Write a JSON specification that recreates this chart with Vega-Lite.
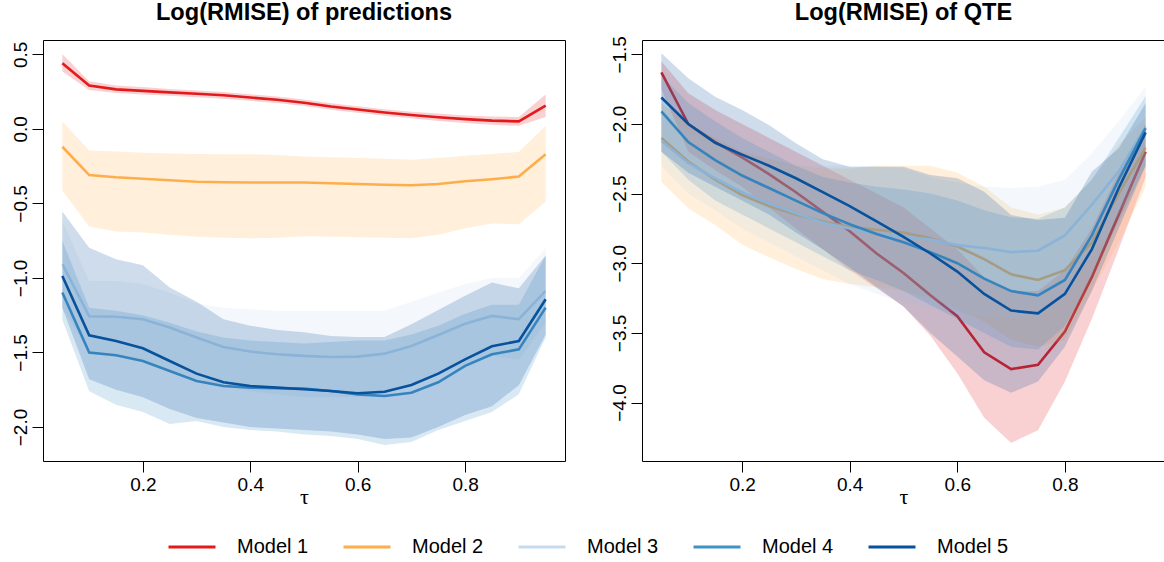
{
"$schema": "https://vega.github.io/schema/vega-lite/v6.json",
"autosize": {"type": "pad"},
"padding": {"left": 10, "top": 0, "right": 0, "bottom": 0},
"datasets": {
"pred": [
{"tau":0.05,"model":"Model 1","m":0.44,"lo":0.385,"hi":0.5},
{"tau":0.1,"model":"Model 1","m":0.29,"lo":0.26,"hi":0.32},
{"tau":0.15,"model":"Model 1","m":0.265,"lo":0.24,"hi":0.29},
{"tau":0.2,"model":"Model 1","m":0.255,"lo":0.23,"hi":0.28},
{"tau":0.25,"model":"Model 1","m":0.245,"lo":0.222,"hi":0.268},
{"tau":0.3,"model":"Model 1","m":0.235,"lo":0.212,"hi":0.258},
{"tau":0.35,"model":"Model 1","m":0.225,"lo":0.202,"hi":0.248},
{"tau":0.4,"model":"Model 1","m":0.21,"lo":0.188,"hi":0.232},
{"tau":0.45,"model":"Model 1","m":0.195,"lo":0.173,"hi":0.217},
{"tau":0.5,"model":"Model 1","m":0.175,"lo":0.153,"hi":0.197},
{"tau":0.55,"model":"Model 1","m":0.15,"lo":0.128,"hi":0.172},
{"tau":0.6,"model":"Model 1","m":0.13,"lo":0.108,"hi":0.152},
{"tau":0.65,"model":"Model 1","m":0.11,"lo":0.088,"hi":0.132},
{"tau":0.7,"model":"Model 1","m":0.093,"lo":0.071,"hi":0.115},
{"tau":0.75,"model":"Model 1","m":0.078,"lo":0.053,"hi":0.103},
{"tau":0.8,"model":"Model 1","m":0.065,"lo":0.04,"hi":0.09},
{"tau":0.85,"model":"Model 1","m":0.055,"lo":0.027,"hi":0.083},
{"tau":0.9,"model":"Model 1","m":0.05,"lo":0.02,"hi":0.08},
{"tau":0.95,"model":"Model 1","m":0.155,"lo":0.08,"hi":0.23},
{"tau":0.05,"model":"Model 2","m":-0.12,"lo":-0.414,"hi":0.05},
{"tau":0.1,"model":"Model 2","m":-0.31,"lo":-0.655,"hi":-0.146},
{"tau":0.15,"model":"Model 2","m":-0.325,"lo":-0.689,"hi":-0.152},
{"tau":0.2,"model":"Model 2","m":-0.335,"lo":-0.695,"hi":-0.16},
{"tau":0.25,"model":"Model 2","m":-0.345,"lo":-0.71,"hi":-0.165},
{"tau":0.3,"model":"Model 2","m":-0.355,"lo":-0.723,"hi":-0.168},
{"tau":0.35,"model":"Model 2","m":-0.358,"lo":-0.73,"hi":-0.17},
{"tau":0.4,"model":"Model 2","m":-0.36,"lo":-0.734,"hi":-0.17},
{"tau":0.45,"model":"Model 2","m":-0.36,"lo":-0.73,"hi":-0.175},
{"tau":0.5,"model":"Model 2","m":-0.36,"lo":-0.72,"hi":-0.185},
{"tau":0.55,"model":"Model 2","m":-0.365,"lo":-0.722,"hi":-0.19},
{"tau":0.6,"model":"Model 2","m":-0.37,"lo":-0.727,"hi":-0.195},
{"tau":0.65,"model":"Model 2","m":-0.375,"lo":-0.73,"hi":-0.2},
{"tau":0.7,"model":"Model 2","m":-0.378,"lo":-0.734,"hi":-0.208},
{"tau":0.75,"model":"Model 2","m":-0.37,"lo":-0.71,"hi":-0.195},
{"tau":0.8,"model":"Model 2","m":-0.352,"lo":-0.667,"hi":-0.18},
{"tau":0.85,"model":"Model 2","m":-0.338,"lo":-0.635,"hi":-0.168},
{"tau":0.9,"model":"Model 2","m":-0.32,"lo":-0.64,"hi":-0.155},
{"tau":0.95,"model":"Model 2","m":-0.17,"lo":-0.488,"hi":0.02},
{"tau":0.05,"model":"Model 3","m":-0.908,"lo":-1.2,"hi":-0.62},
{"tau":0.1,"model":"Model 3","m":-1.257,"lo":-1.5,"hi":-1.02},
{"tau":0.15,"model":"Model 3","m":-1.26,"lo":-1.52,"hi":-1.02},
{"tau":0.2,"model":"Model 3","m":-1.277,"lo":-1.55,"hi":-1.04},
{"tau":0.25,"model":"Model 3","m":-1.333,"lo":-1.62,"hi":-1.1},
{"tau":0.3,"model":"Model 3","m":-1.4,"lo":-1.68,"hi":-1.17},
{"tau":0.35,"model":"Model 3","m":-1.463,"lo":-1.72,"hi":-1.2},
{"tau":0.4,"model":"Model 3","m":-1.494,"lo":-1.76,"hi":-1.21},
{"tau":0.45,"model":"Model 3","m":-1.512,"lo":-1.78,"hi":-1.22},
{"tau":0.5,"model":"Model 3","m":-1.523,"lo":-1.8,"hi":-1.22},
{"tau":0.55,"model":"Model 3","m":-1.53,"lo":-1.8,"hi":-1.22},
{"tau":0.6,"model":"Model 3","m":-1.528,"lo":-1.8,"hi":-1.22},
{"tau":0.65,"model":"Model 3","m":-1.508,"lo":-1.78,"hi":-1.22},
{"tau":0.7,"model":"Model 3","m":-1.456,"lo":-1.72,"hi":-1.16},
{"tau":0.75,"model":"Model 3","m":-1.383,"lo":-1.65,"hi":-1.1},
{"tau":0.8,"model":"Model 3","m":-1.307,"lo":-1.58,"hi":-1.04},
{"tau":0.85,"model":"Model 3","m":-1.255,"lo":-1.52,"hi":-1.0},
{"tau":0.9,"model":"Model 3","m":-1.277,"lo":-1.55,"hi":-1.0},
{"tau":0.95,"model":"Model 3","m":-1.087,"lo":-1.3,"hi":-0.8},
{"tau":0.05,"model":"Model 4","m":-1.098,"lo":-1.28,"hi":-0.75},
{"tau":0.1,"model":"Model 4","m":-1.501,"lo":-1.76,"hi":-1.2},
{"tau":0.15,"model":"Model 4","m":-1.519,"lo":-1.85,"hi":-1.22},
{"tau":0.2,"model":"Model 4","m":-1.557,"lo":-1.9,"hi":-1.25},
{"tau":0.25,"model":"Model 4","m":-1.624,"lo":-1.98,"hi":-1.3},
{"tau":0.3,"model":"Model 4","m":-1.691,"lo":-1.96,"hi":-1.36},
{"tau":0.35,"model":"Model 4","m":-1.725,"lo":-2.0,"hi":-1.4},
{"tau":0.4,"model":"Model 4","m":-1.736,"lo":-2.02,"hi":-1.42},
{"tau":0.45,"model":"Model 4","m":-1.74,"lo":-2.03,"hi":-1.43},
{"tau":0.5,"model":"Model 4","m":-1.742,"lo":-2.05,"hi":-1.44},
{"tau":0.55,"model":"Model 4","m":-1.758,"lo":-2.06,"hi":-1.43},
{"tau":0.6,"model":"Model 4","m":-1.781,"lo":-2.08,"hi":-1.42},
{"tau":0.65,"model":"Model 4","m":-1.792,"lo":-2.12,"hi":-1.42},
{"tau":0.7,"model":"Model 4","m":-1.77,"lo":-2.1,"hi":-1.38},
{"tau":0.75,"model":"Model 4","m":-1.7,"lo":-2.02,"hi":-1.32},
{"tau":0.8,"model":"Model 4","m":-1.59,"lo":-1.96,"hi":-1.24},
{"tau":0.85,"model":"Model 4","m":-1.512,"lo":-1.9,"hi":-1.18},
{"tau":0.9,"model":"Model 4","m":-1.479,"lo":-1.78,"hi":-1.18},
{"tau":0.95,"model":"Model 4","m":-1.199,"lo":-1.4,"hi":-0.85},
{"tau":0.05,"model":"Model 5","m":-0.987,"lo":-1.2,"hi":-0.555},
{"tau":0.1,"model":"Model 5","m":-1.385,"lo":-1.68,"hi":-0.797},
{"tau":0.15,"model":"Model 5","m":-1.423,"lo":-1.75,"hi":-0.875},
{"tau":0.2,"model":"Model 5","m":-1.472,"lo":-1.8,"hi":-0.915},
{"tau":0.25,"model":"Model 5","m":-1.557,"lo":-1.88,"hi":-1.065},
{"tau":0.3,"model":"Model 5","m":-1.642,"lo":-1.94,"hi":-1.16},
{"tau":0.35,"model":"Model 5","m":-1.7,"lo":-1.97,"hi":-1.277},
{"tau":0.4,"model":"Model 5","m":-1.725,"lo":-2.0,"hi":-1.32},
{"tau":0.45,"model":"Model 5","m":-1.736,"lo":-2.01,"hi":-1.35},
{"tau":0.5,"model":"Model 5","m":-1.747,"lo":-2.02,"hi":-1.365},
{"tau":0.55,"model":"Model 5","m":-1.758,"lo":-2.03,"hi":-1.39},
{"tau":0.6,"model":"Model 5","m":-1.774,"lo":-2.05,"hi":-1.397},
{"tau":0.65,"model":"Model 5","m":-1.763,"lo":-2.08,"hi":-1.397},
{"tau":0.7,"model":"Model 5","m":-1.718,"lo":-2.07,"hi":-1.31},
{"tau":0.75,"model":"Model 5","m":-1.642,"lo":-2.0,"hi":-1.215},
{"tau":0.8,"model":"Model 5","m":-1.546,"lo":-1.92,"hi":-1.12},
{"tau":0.85,"model":"Model 5","m":-1.458,"lo":-1.86,"hi":-1.03},
{"tau":0.9,"model":"Model 5","m":-1.423,"lo":-1.72,"hi":-1.07},
{"tau":0.95,"model":"Model 5","m":-1.143,"lo":-1.38,"hi":-0.85}
],
"qte": [
{"tau":0.05,"model":"Model 1","m":-1.63,"lo":-1.75,"hi":-1.55},
{"tau":0.1,"model":"Model 1","m":-2.0,"lo":-2.2,"hi":-1.78},
{"tau":0.15,"model":"Model 1","m":-2.13,"lo":-2.33,"hi":-1.9},
{"tau":0.2,"model":"Model 1","m":-2.24,"lo":-2.45,"hi":-2.0},
{"tau":0.25,"model":"Model 1","m":-2.36,"lo":-2.6,"hi":-2.1},
{"tau":0.3,"model":"Model 1","m":-2.49,"lo":-2.75,"hi":-2.2},
{"tau":0.35,"model":"Model 1","m":-2.63,"lo":-2.9,"hi":-2.3},
{"tau":0.4,"model":"Model 1","m":-2.77,"lo":-3.05,"hi":-2.4},
{"tau":0.45,"model":"Model 1","m":-2.93,"lo":-3.18,"hi":-2.5},
{"tau":0.5,"model":"Model 1","m":-3.07,"lo":-3.31,"hi":-2.6},
{"tau":0.55,"model":"Model 1","m":-3.23,"lo":-3.52,"hi":-2.75},
{"tau":0.6,"model":"Model 1","m":-3.38,"lo":-3.79,"hi":-2.9},
{"tau":0.65,"model":"Model 1","m":-3.64,"lo":-4.11,"hi":-3.1},
{"tau":0.7,"model":"Model 1","m":-3.76,"lo":-4.29,"hi":-3.2},
{"tau":0.75,"model":"Model 1","m":-3.73,"lo":-4.2,"hi":-3.2},
{"tau":0.8,"model":"Model 1","m":-3.49,"lo":-3.85,"hi":-3.05},
{"tau":0.85,"model":"Model 1","m":-3.1,"lo":-3.4,"hi":-2.75},
{"tau":0.9,"model":"Model 1","m":-2.65,"lo":-2.9,"hi":-2.35},
{"tau":0.95,"model":"Model 1","m":-2.2,"lo":-2.38,"hi":-2.0},
{"tau":0.05,"model":"Model 2","m":-2.1,"lo":-2.415,"hi":-1.85},
{"tau":0.1,"model":"Model 2","m":-2.27,"lo":-2.606,"hi":-2.0},
{"tau":0.15,"model":"Model 2","m":-2.4,"lo":-2.726,"hi":-2.1},
{"tau":0.2,"model":"Model 2","m":-2.51,"lo":-2.865,"hi":-2.2},
{"tau":0.25,"model":"Model 2","m":-2.59,"lo":-2.957,"hi":-2.25},
{"tau":0.3,"model":"Model 2","m":-2.65,"lo":-3.041,"hi":-2.3},
{"tau":0.35,"model":"Model 2","m":-2.7,"lo":-3.113,"hi":-2.32},
{"tau":0.4,"model":"Model 2","m":-2.74,"lo":-3.149,"hi":-2.32},
{"tau":0.45,"model":"Model 2","m":-2.76,"lo":-3.173,"hi":-2.3},
{"tau":0.5,"model":"Model 2","m":-2.78,"lo":-3.2,"hi":-2.3},
{"tau":0.55,"model":"Model 2","m":-2.82,"lo":-3.25,"hi":-2.3},
{"tau":0.6,"model":"Model 2","m":-2.88,"lo":-3.33,"hi":-2.35},
{"tau":0.65,"model":"Model 2","m":-2.97,"lo":-3.42,"hi":-2.45},
{"tau":0.7,"model":"Model 2","m":-3.08,"lo":-3.55,"hi":-2.6},
{"tau":0.75,"model":"Model 2","m":-3.12,"lo":-3.6,"hi":-2.65},
{"tau":0.8,"model":"Model 2","m":-3.05,"lo":-3.55,"hi":-2.6},
{"tau":0.85,"model":"Model 2","m":-2.85,"lo":-3.2,"hi":-2.4},
{"tau":0.9,"model":"Model 2","m":-2.5,"lo":-2.85,"hi":-2.15},
{"tau":0.95,"model":"Model 2","m":-2.17,"lo":-2.45,"hi":-1.95},
{"tau":0.05,"model":"Model 3","m":-2.12,"lo":-2.3,"hi":-1.9},
{"tau":0.1,"model":"Model 3","m":-2.28,"lo":-2.5,"hi":-2.05},
{"tau":0.15,"model":"Model 3","m":-2.39,"lo":-2.62,"hi":-2.15},
{"tau":0.2,"model":"Model 3","m":-2.49,"lo":-2.75,"hi":-2.22},
{"tau":0.25,"model":"Model 3","m":-2.57,"lo":-2.85,"hi":-2.28},
{"tau":0.3,"model":"Model 3","m":-2.64,"lo":-2.95,"hi":-2.3},
{"tau":0.35,"model":"Model 3","m":-2.71,"lo":-3.05,"hi":-2.3},
{"tau":0.4,"model":"Model 3","m":-2.75,"lo":-3.15,"hi":-2.3},
{"tau":0.45,"model":"Model 3","m":-2.79,"lo":-3.22,"hi":-2.3},
{"tau":0.5,"model":"Model 3","m":-2.81,"lo":-3.28,"hi":-2.32},
{"tau":0.55,"model":"Model 3","m":-2.83,"lo":-3.32,"hi":-2.38},
{"tau":0.6,"model":"Model 3","m":-2.87,"lo":-3.35,"hi":-2.42},
{"tau":0.65,"model":"Model 3","m":-2.89,"lo":-3.38,"hi":-2.45},
{"tau":0.7,"model":"Model 3","m":-2.92,"lo":-3.4,"hi":-2.46},
{"tau":0.75,"model":"Model 3","m":-2.91,"lo":-3.38,"hi":-2.45},
{"tau":0.8,"model":"Model 3","m":-2.8,"lo":-3.25,"hi":-2.4},
{"tau":0.85,"model":"Model 3","m":-2.58,"lo":-2.95,"hi":-2.21},
{"tau":0.9,"model":"Model 3","m":-2.34,"lo":-2.65,"hi":-1.98},
{"tau":0.95,"model":"Model 3","m":-2.02,"lo":-2.3,"hi":-1.73},
{"tau":0.05,"model":"Model 4","m":-1.91,"lo":-2.2,"hi":-1.65},
{"tau":0.1,"model":"Model 4","m":-2.13,"lo":-2.4,"hi":-1.85},
{"tau":0.15,"model":"Model 4","m":-2.26,"lo":-2.55,"hi":-1.98},
{"tau":0.2,"model":"Model 4","m":-2.37,"lo":-2.65,"hi":-2.1},
{"tau":0.25,"model":"Model 4","m":-2.46,"lo":-2.75,"hi":-2.2},
{"tau":0.3,"model":"Model 4","m":-2.55,"lo":-2.85,"hi":-2.3},
{"tau":0.35,"model":"Model 4","m":-2.64,"lo":-2.95,"hi":-2.38},
{"tau":0.4,"model":"Model 4","m":-2.72,"lo":-3.05,"hi":-2.42},
{"tau":0.45,"model":"Model 4","m":-2.79,"lo":-3.12,"hi":-2.45},
{"tau":0.5,"model":"Model 4","m":-2.85,"lo":-3.2,"hi":-2.47},
{"tau":0.55,"model":"Model 4","m":-2.92,"lo":-3.3,"hi":-2.5},
{"tau":0.6,"model":"Model 4","m":-3.0,"lo":-3.4,"hi":-2.55},
{"tau":0.65,"model":"Model 4","m":-3.11,"lo":-3.5,"hi":-2.62},
{"tau":0.7,"model":"Model 4","m":-3.2,"lo":-3.6,"hi":-2.67},
{"tau":0.75,"model":"Model 4","m":-3.23,"lo":-3.62,"hi":-2.68},
{"tau":0.8,"model":"Model 4","m":-3.12,"lo":-3.45,"hi":-2.6},
{"tau":0.85,"model":"Model 4","m":-2.8,"lo":-3.1,"hi":-2.4},
{"tau":0.9,"model":"Model 4","m":-2.4,"lo":-2.7,"hi":-2.1},
{"tau":0.95,"model":"Model 4","m":-2.03,"lo":-2.3,"hi":-1.8},
{"tau":0.05,"model":"Model 5","m":-1.81,"lo":-2.2,"hi":-1.493},
{"tau":0.1,"model":"Model 5","m":-2.0,"lo":-2.35,"hi":-1.672},
{"tau":0.15,"model":"Model 5","m":-2.135,"lo":-2.45,"hi":-1.804},
{"tau":0.2,"model":"Model 5","m":-2.22,"lo":-2.55,"hi":-1.9},
{"tau":0.25,"model":"Model 5","m":-2.3,"lo":-2.65,"hi":-2.008},
{"tau":0.3,"model":"Model 5","m":-2.39,"lo":-2.78,"hi":-2.139},
{"tau":0.35,"model":"Model 5","m":-2.49,"lo":-2.9,"hi":-2.254},
{"tau":0.4,"model":"Model 5","m":-2.59,"lo":-3.03,"hi":-2.307},
{"tau":0.45,"model":"Model 5","m":-2.7,"lo":-3.17,"hi":-2.307},
{"tau":0.5,"model":"Model 5","m":-2.81,"lo":-3.31,"hi":-2.307},
{"tau":0.55,"model":"Model 5","m":-2.93,"lo":-3.5,"hi":-2.367},
{"tau":0.6,"model":"Model 5","m":-3.06,"lo":-3.67,"hi":-2.39},
{"tau":0.65,"model":"Model 5","m":-3.22,"lo":-3.84,"hi":-2.487},
{"tau":0.7,"model":"Model 5","m":-3.34,"lo":-3.93,"hi":-2.654},
{"tau":0.75,"model":"Model 5","m":-3.36,"lo":-3.85,"hi":-2.69},
{"tau":0.8,"model":"Model 5","m":-3.22,"lo":-3.6,"hi":-2.673},
{"tau":0.85,"model":"Model 5","m":-2.9,"lo":-3.2,"hi":-2.343},
{"tau":0.9,"model":"Model 5","m":-2.46,"lo":-2.75,"hi":-2.175},
{"tau":0.95,"model":"Model 5","m":-2.06,"lo":-2.3,"hi":-1.852}
]
},
"hconcat": [
{
"width": 522, "height": 421,
"title": {"text": "Log(RMISE) of predictions", "offset": 15},
"data": {"name": "pred"},
"encoding": {
"x": {"field": "tau", "type": "quantitative", "scale": {"domain": [0.014, 0.986], "nice": false, "zero": false}, "axis": {"values": [0.2, 0.4, 0.6, 0.8], "format": ".1f", "title": "τ"}}
},
"layer": [
{"transform": [{"filter": "datum.model === 'Model 1'"}], "mark": {"type": "area", "opacity": 0.2, "color": "#e31a1c"}, "encoding": {"y": {"field": "hi", "type": "quantitative", "scale": {"domain": [-2.228, 0.596], "nice": false, "zero": false}, "axis": {"values": [0.5, 0, -0.5, -1, -1.5, -2], "format": ".1f"}, "title": null}, "y2": {"field": "lo"}}},
{"transform": [{"filter": "datum.model === 'Model 1'"}], "mark": {"type": "line", "strokeWidth": 2.6}, "encoding": {"y": {"field": "m", "type": "quantitative", "scale": {"domain": [-2.228, 0.596], "nice": false, "zero": false}, "axis": {"values": [0.5, 0, -0.5, -1, -1.5, -2], "format": ".1f"}, "title": null}, "color": {"field": "model", "type": "nominal", "title": null}}},
{"transform": [{"filter": "datum.model === 'Model 2'"}], "mark": {"type": "area", "opacity": 0.2, "color": "#fdae4b"}, "encoding": {"y": {"field": "hi", "type": "quantitative", "scale": {"domain": [-2.228, 0.596], "nice": false, "zero": false}, "axis": {"values": [0.5, 0, -0.5, -1, -1.5, -2], "format": ".1f"}, "title": null}, "y2": {"field": "lo"}}},
{"transform": [{"filter": "datum.model === 'Model 2'"}], "mark": {"type": "line", "strokeWidth": 2.6}, "encoding": {"y": {"field": "m", "type": "quantitative", "scale": {"domain": [-2.228, 0.596], "nice": false, "zero": false}, "axis": {"values": [0.5, 0, -0.5, -1, -1.5, -2], "format": ".1f"}, "title": null}, "color": {"field": "model", "type": "nominal", "title": null}}},
{"transform": [{"filter": "datum.model === 'Model 3'"}], "mark": {"type": "area", "opacity": 0.2, "color": "#c6dbef"}, "encoding": {"y": {"field": "hi", "type": "quantitative", "scale": {"domain": [-2.228, 0.596], "nice": false, "zero": false}, "axis": {"values": [0.5, 0, -0.5, -1, -1.5, -2], "format": ".1f"}, "title": null}, "y2": {"field": "lo"}}},
{"transform": [{"filter": "datum.model === 'Model 3'"}], "mark": {"type": "line", "strokeWidth": 2.6}, "encoding": {"y": {"field": "m", "type": "quantitative", "scale": {"domain": [-2.228, 0.596], "nice": false, "zero": false}, "axis": {"values": [0.5, 0, -0.5, -1, -1.5, -2], "format": ".1f"}, "title": null}, "color": {"field": "model", "type": "nominal", "title": null}}},
{"transform": [{"filter": "datum.model === 'Model 4'"}], "mark": {"type": "area", "opacity": 0.2, "color": "#4292c6"}, "encoding": {"y": {"field": "hi", "type": "quantitative", "scale": {"domain": [-2.228, 0.596], "nice": false, "zero": false}, "axis": {"values": [0.5, 0, -0.5, -1, -1.5, -2], "format": ".1f"}, "title": null}, "y2": {"field": "lo"}}},
{"transform": [{"filter": "datum.model === 'Model 4'"}], "mark": {"type": "line", "strokeWidth": 2.6}, "encoding": {"y": {"field": "m", "type": "quantitative", "scale": {"domain": [-2.228, 0.596], "nice": false, "zero": false}, "axis": {"values": [0.5, 0, -0.5, -1, -1.5, -2], "format": ".1f"}, "title": null}, "color": {"field": "model", "type": "nominal", "title": null}}},
{"transform": [{"filter": "datum.model === 'Model 5'"}], "mark": {"type": "area", "opacity": 0.2, "color": "#08519c"}, "encoding": {"y": {"field": "hi", "type": "quantitative", "scale": {"domain": [-2.228, 0.596], "nice": false, "zero": false}, "axis": {"values": [0.5, 0, -0.5, -1, -1.5, -2], "format": ".1f"}, "title": null}, "y2": {"field": "lo"}}},
{"transform": [{"filter": "datum.model === 'Model 5'"}], "mark": {"type": "line", "strokeWidth": 2.6}, "encoding": {"y": {"field": "m", "type": "quantitative", "scale": {"domain": [-2.228, 0.596], "nice": false, "zero": false}, "axis": {"values": [0.5, 0, -0.5, -1, -1.5, -2], "format": ".1f"}, "title": null}, "color": {"field": "model", "type": "nominal", "title": null}}}
]
},
{
"width": 523, "height": 421,
"title": {"text": "Log(RMISE) of QTE", "offset": 10.5},
"data": {"name": "qte"},
"encoding": {
"x": {"field": "tau", "type": "quantitative", "scale": {"domain": [0.014, 0.986], "nice": false, "zero": false}, "axis": {"values": [0.2, 0.4, 0.6, 0.8], "format": ".1f", "title": "τ"}}
},
"layer": [
{"transform": [{"filter": "datum.model === 'Model 1'"}], "mark": {"type": "area", "opacity": 0.2, "color": "#e31a1c"}, "encoding": {"y": {"field": "hi", "type": "quantitative", "scale": {"domain": [-4.42, -1.397], "nice": false, "zero": false}, "axis": {"values": [-1.5, -2, -2.5, -3, -3.5, -4], "format": ".1f"}, "title": null}, "y2": {"field": "lo"}}},
{"transform": [{"filter": "datum.model === 'Model 1'"}], "mark": {"type": "line", "strokeWidth": 2.6}, "encoding": {"y": {"field": "m", "type": "quantitative", "scale": {"domain": [-4.42, -1.397], "nice": false, "zero": false}, "axis": {"values": [-1.5, -2, -2.5, -3, -3.5, -4], "format": ".1f"}, "title": null}, "color": {"field": "model", "type": "nominal", "title": null}}},
{"transform": [{"filter": "datum.model === 'Model 2'"}], "mark": {"type": "area", "opacity": 0.2, "color": "#fdae4b"}, "encoding": {"y": {"field": "hi", "type": "quantitative", "scale": {"domain": [-4.42, -1.397], "nice": false, "zero": false}, "axis": {"values": [-1.5, -2, -2.5, -3, -3.5, -4], "format": ".1f"}, "title": null}, "y2": {"field": "lo"}}},
{"transform": [{"filter": "datum.model === 'Model 2'"}], "mark": {"type": "line", "strokeWidth": 2.6}, "encoding": {"y": {"field": "m", "type": "quantitative", "scale": {"domain": [-4.42, -1.397], "nice": false, "zero": false}, "axis": {"values": [-1.5, -2, -2.5, -3, -3.5, -4], "format": ".1f"}, "title": null}, "color": {"field": "model", "type": "nominal", "title": null}}},
{"transform": [{"filter": "datum.model === 'Model 3'"}], "mark": {"type": "area", "opacity": 0.2, "color": "#c6dbef"}, "encoding": {"y": {"field": "hi", "type": "quantitative", "scale": {"domain": [-4.42, -1.397], "nice": false, "zero": false}, "axis": {"values": [-1.5, -2, -2.5, -3, -3.5, -4], "format": ".1f"}, "title": null}, "y2": {"field": "lo"}}},
{"transform": [{"filter": "datum.model === 'Model 3'"}], "mark": {"type": "line", "strokeWidth": 2.6}, "encoding": {"y": {"field": "m", "type": "quantitative", "scale": {"domain": [-4.42, -1.397], "nice": false, "zero": false}, "axis": {"values": [-1.5, -2, -2.5, -3, -3.5, -4], "format": ".1f"}, "title": null}, "color": {"field": "model", "type": "nominal", "title": null}}},
{"transform": [{"filter": "datum.model === 'Model 4'"}], "mark": {"type": "area", "opacity": 0.2, "color": "#4292c6"}, "encoding": {"y": {"field": "hi", "type": "quantitative", "scale": {"domain": [-4.42, -1.397], "nice": false, "zero": false}, "axis": {"values": [-1.5, -2, -2.5, -3, -3.5, -4], "format": ".1f"}, "title": null}, "y2": {"field": "lo"}}},
{"transform": [{"filter": "datum.model === 'Model 4'"}], "mark": {"type": "line", "strokeWidth": 2.6}, "encoding": {"y": {"field": "m", "type": "quantitative", "scale": {"domain": [-4.42, -1.397], "nice": false, "zero": false}, "axis": {"values": [-1.5, -2, -2.5, -3, -3.5, -4], "format": ".1f"}, "title": null}, "color": {"field": "model", "type": "nominal", "title": null}}},
{"transform": [{"filter": "datum.model === 'Model 5'"}], "mark": {"type": "area", "opacity": 0.2, "color": "#08519c"}, "encoding": {"y": {"field": "hi", "type": "quantitative", "scale": {"domain": [-4.42, -1.397], "nice": false, "zero": false}, "axis": {"values": [-1.5, -2, -2.5, -3, -3.5, -4], "format": ".1f"}, "title": null}, "y2": {"field": "lo"}}},
{"transform": [{"filter": "datum.model === 'Model 5'"}], "mark": {"type": "line", "strokeWidth": 2.6}, "encoding": {"y": {"field": "m", "type": "quantitative", "scale": {"domain": [-4.42, -1.397], "nice": false, "zero": false}, "axis": {"values": [-1.5, -2, -2.5, -3, -3.5, -4], "format": ".1f"}, "title": null}, "color": {"field": "model", "type": "nominal", "title": null}}}
]
}
],
"spacing": 77,
"bounds": "flush",
"resolve": {"scale": {"color": "shared"}},
"config": {
"font": "Liberation Sans",
"view": {"stroke": "#000000", "strokeWidth": 1},
"axis": {"domain": false, "grid": false, "ticks": true, "tickColor": "#000000", "tickSize": 11, "tickWidth": 1, "labelFont": "Liberation Sans", "labelFontSize": 19, "labelColor": "#000000", "labelPadding": 3},
"axisY": {"labelAngle": -90, "labelAlign": "center", "labelBaseline": "bottom", "labelPadding": 2},
"axisX": {"titleFont": "Liberation Serif", "titleFontSize": 22, "titleFontWeight": "normal", "titleColor": "#000000", "titlePadding": -8},
"title": {"font": "Liberation Sans", "fontSize": 23.6, "fontWeight": "bold", "color": "#000000", "anchor": "middle", "frame": "group", "baseline": "alphabetic"},
"legend": {"orient": "none", "legendX": 124, "legendY": 482, "direction": "horizontal", "symbolType": "stroke", "symbolSize": 2209, "symbolStrokeWidth": 3, "labelFont": "Liberation Sans", "labelFontSize": 20, "labelColor": "#000000", "labelOffset": 20, "columnPadding": 28, "symbolOpacity": 1, "padding": 0},
"range": {"category": ["#e31a1c", "#fdae4b", "#c6dbef", "#4292c6", "#08519c"]}
}
}
